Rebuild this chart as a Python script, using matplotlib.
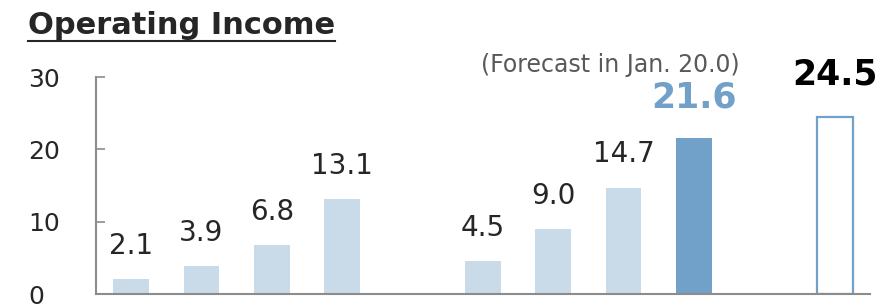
import matplotlib
matplotlib.use('Agg')
import matplotlib.pyplot as plt
from matplotlib.lines import Line2D

# Data
positions = [0, 1, 2, 3, 5, 6, 7, 8]
values = [2.1, 3.9, 6.8, 13.1, 4.5, 9.0, 14.7, 21.6]
forecast_pos = 10
forecast_value = 24.5
y_ticks = [0, 10, 20, 30]
title = "Operating Income"
note = "(Forecast in Jan. 20.0)"

light = '#C9DAE8'
dark = '#71A1C8'
axis_gray = '#8C8C8C'

fig = plt.figure(figsize=(8.83, 3.05), dpi=100)
ax = fig.add_axes([0.1087, 0.036, 0.8763, 0.7115])

colors = [light] * (len(values) - 1) + [dark]
ax.bar(positions, values, width=0.51, color=colors, zorder=2)
ax.bar([forecast_pos], [forecast_value], width=0.51, facecolor='white',
       edgecolor=dark, linewidth=1.6, zorder=2)

# value labels
for x, v in zip(positions[:-1], values[:-1]):
    ax.text(x, v + 4.6, f"{v:.1f}", ha='center', va='center', fontsize=20,
            color='#262626', clip_on=False)
ax.text(positions[-1], values[-1] + 5.5, f"{values[-1]:.1f}", ha='center', va='center',
        fontsize=25, fontweight='bold', color=dark, clip_on=False)
ax.text(forecast_pos, forecast_value + 5.8, f"{forecast_value:.1f}", ha='center', va='center',
        fontsize=25, fontweight='bold', color='black', clip_on=False)
ax.text(6.81, 31.7, note, ha='center', va='center', fontsize=17,
        color='#595959', clip_on=False)

ax.set_xlim(-0.5, 10.5)
ax.set_ylim(0, 30)
ax.set_xticks([])
ax.set_yticks(y_ticks)
ax.set_yticklabels([str(t) for t in y_ticks], ha='left', fontsize=18, color='#262626')
ax.tick_params(axis='y', direction='in', length=6.5, width=1.2, color=axis_gray, pad=49)
for side in ['top', 'right']:
    ax.spines[side].set_visible(False)
for side in ['left', 'bottom']:
    ax.spines[side].set_color(axis_gray)
    ax.spines[side].set_linewidth(1.5)

# underlined title
t = fig.text(28 / 883, 1 - 25 / 305, title, ha='left', va='center', fontsize=22,
             fontweight='bold', color='#262626')
fig.canvas.draw()
bb = t.get_window_extent().transformed(fig.transFigure.inverted())
fig.add_artist(Line2D([bb.x0, bb.x1], [bb.y0 - 0.005, bb.y0 - 0.005],
                      transform=fig.transFigure, color='#262626', linewidth=1.5))

fig.savefig('out.png', dpi=100)
